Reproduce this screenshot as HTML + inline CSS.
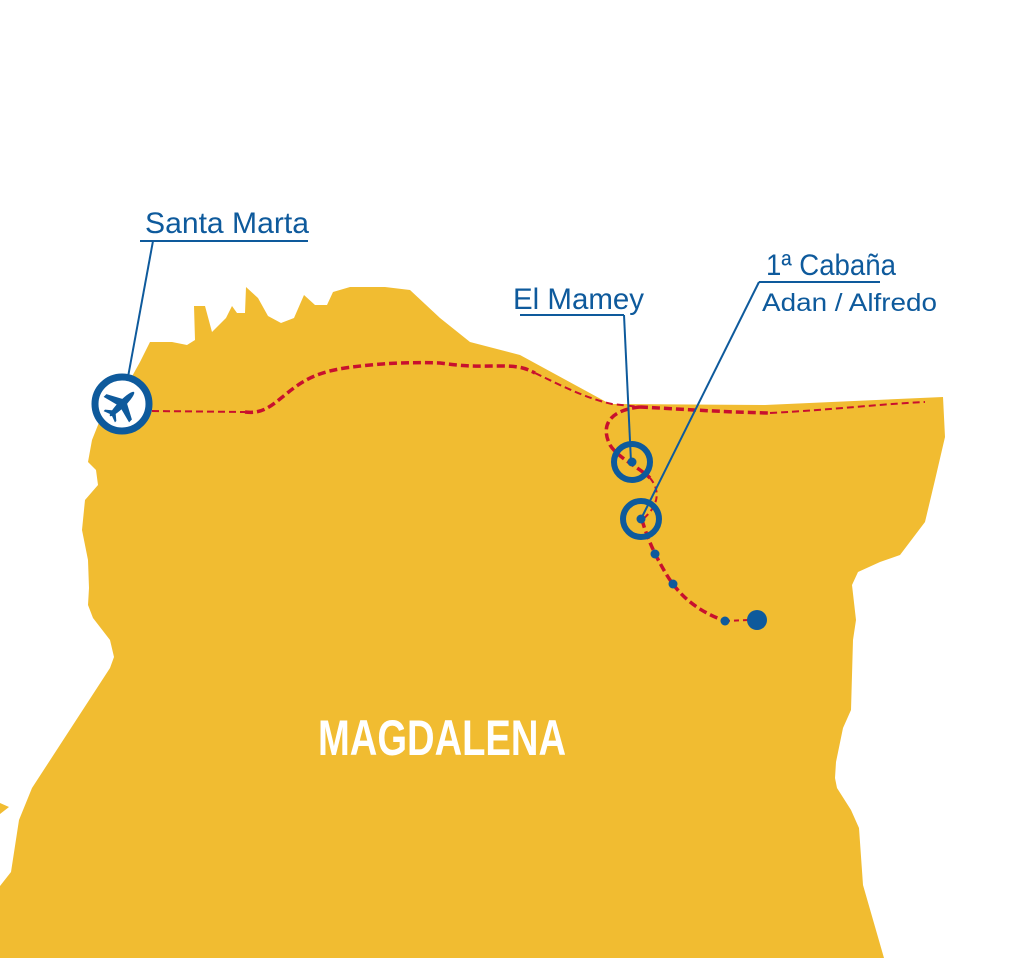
<!DOCTYPE html>
<html><head><meta charset="utf-8"><style>html,body{margin:0;padding:0;background:#fff}svg{display:block}</style></head>
<body>
<svg width="1024" height="958" viewBox="0 0 1024 958" xmlns="http://www.w3.org/2000/svg">
<polygon fill="#f1bc31" points="0,958 884,958 863,885 859,828 851,810 837,788 835,778 836,762 843,728 851,710 853,640 856,620 852,585 858,572 880,562 900,555 925,522 935,480 945,437 943,397 765,405 610,404 520,355 470,342 440,318 410,290 385,287 350,287 333,292 327,305 315,305 304,295 294,318 281,323 268,316 258,298 246,287 245,313 237,313 232,306 226,318 212,332 205,306 194,306 195,340 187,345 172,342 150,342 140,362 130,380 100,420 92,440 88,462 96,470 98,485 85,500 82,530 88,560 89,588 88,605 93,618 110,640 114,657 110,668 32,788 19,820 11,872 0,886"/>
<polygon fill="#f1bc31" points="0,803 9,807 0,814"/>
<g fill="none" stroke="#c8102e" stroke-linecap="butt">
<path d="M245,412 C262,414 270,407 285,395 C305,378 320,372 345,368 C380,363 410,362 440,363 C470,367 475,366 500,366 C520,366 525,368 535,373" stroke-width="3.5" stroke-dasharray="8,4"/>
<path d="M152,411 L245,412" stroke-width="2" stroke-dasharray="7,4"/>
<path d="M535,373 C560,385 585,398 612,404 L640,407" stroke-width="2" stroke-dasharray="7,4"/>
<path d="M640,407 C680,409 720,412 770,413" stroke-width="3.5" stroke-dasharray="8,4"/>
<path d="M770,413 C830,410 880,404 925,402" stroke-width="2" stroke-dasharray="7,4"/>
<path d="M640,407 C610,410 600,425 610,445 C618,458 640,468 650,478" stroke-width="3.5" stroke-dasharray="8,4"/>
<path d="M650,478 C660,490 660,505 642,520" stroke-width="2" stroke-dasharray="6,4"/>
<path d="M642,520 C648,540 655,555 665,572 C680,598 700,612 725,621" stroke-width="3.5" stroke-dasharray="8,4"/>
<path d="M725,621 L748,620" stroke-width="2" stroke-dasharray="5,4"/>
</g>
<g stroke="#0e5a9c" stroke-width="2" fill="none">
<line x1="140" y1="241" x2="308" y2="241"/>
<line x1="153" y1="241" x2="128" y2="377"/>
<line x1="520" y1="315" x2="624" y2="315"/>
<line x1="624" y1="315" x2="631" y2="462"/>
<line x1="759" y1="282" x2="880" y2="282"/>
<line x1="759" y1="282" x2="641" y2="519"/>
</g>
<circle cx="122" cy="404" r="27" fill="#fff" stroke="#0e5a9c" stroke-width="7"/>
<g fill="#0e5a9c" transform="translate(122,404) rotate(45)">
<ellipse cx="0" cy="0" rx="3.5" ry="17"/>
<polygon points="-3,-4 -18,4 -18,8 -3,4 3,4 18,8 18,4 3,-4"/>
<polygon points="-2,11 -8,16 -8,18 0,15 8,18 8,16 2,11"/>
</g>
<circle cx="632" cy="462" r="18" fill="none" stroke="#0e5a9c" stroke-width="6"/>
<circle cx="632" cy="462" r="4.5" fill="#0e5a9c"/>
<circle cx="641" cy="519" r="18" fill="none" stroke="#0e5a9c" stroke-width="6"/>
<circle cx="641" cy="519" r="4.5" fill="#0e5a9c"/>
<circle cx="655" cy="554" r="4.5" fill="#0e5a9c"/>
<circle cx="673" cy="584" r="4.5" fill="#0e5a9c"/>
<circle cx="725" cy="621" r="4.5" fill="#0e5a9c"/>
<circle cx="757" cy="620" r="10" fill="#0e5a9c"/>
<g font-family="'Liberation Sans Narrow','Liberation Sans',sans-serif" fill="#0e5a9c">
<text x="145" y="233" font-size="30" textLength="164" lengthAdjust="spacingAndGlyphs">Santa Marta</text>
<text x="513" y="309" font-size="30" textLength="131" lengthAdjust="spacingAndGlyphs">El Mamey</text>
<text x="766" y="275" font-size="30" textLength="130" lengthAdjust="spacingAndGlyphs">1ª Cabaña</text>
<text x="762" y="311" font-size="25" textLength="175" lengthAdjust="spacingAndGlyphs">Adan / Alfredo</text>
</g>
<text x="318" y="755" font-family="'Liberation Sans Narrow','Liberation Sans',sans-serif" font-weight="bold" font-size="50" fill="#fff" textLength="248" lengthAdjust="spacingAndGlyphs">MAGDALENA</text>
</svg>
</body></html>
